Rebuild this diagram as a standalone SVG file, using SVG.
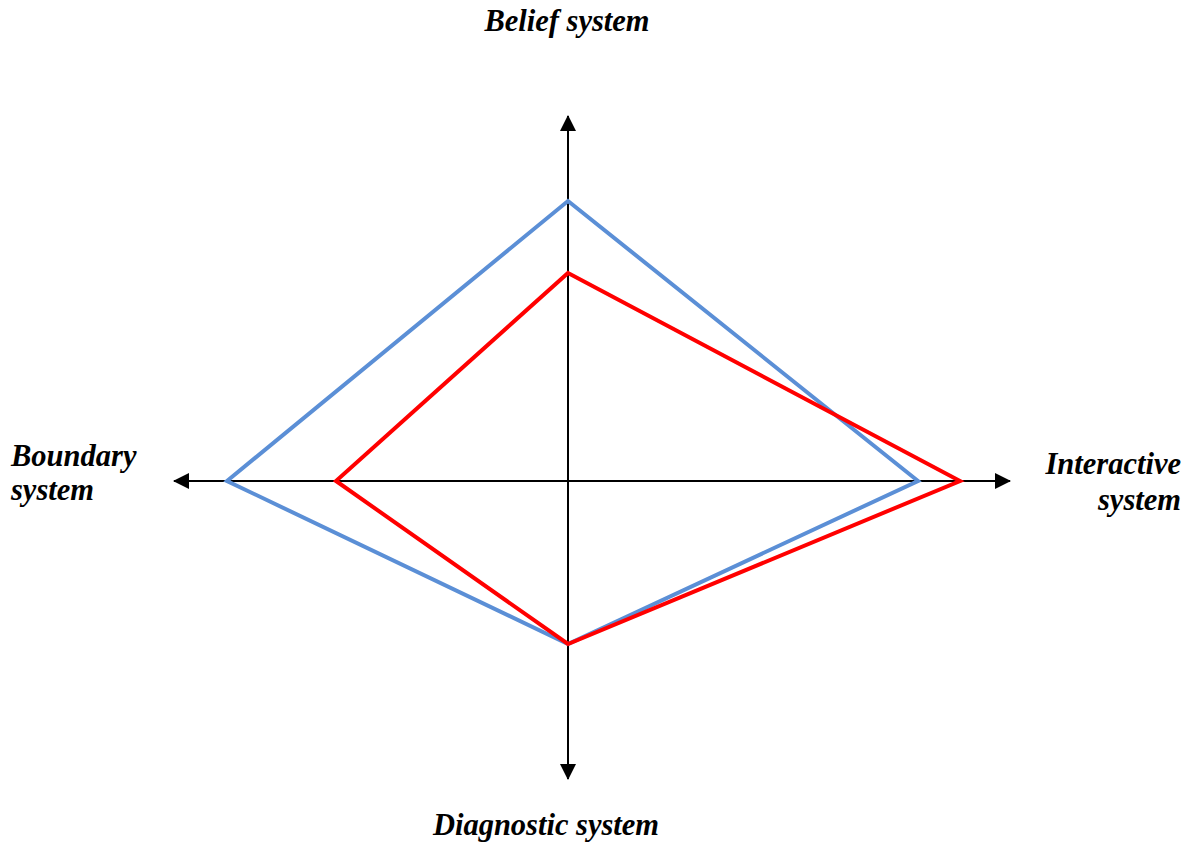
<svg xmlns="http://www.w3.org/2000/svg" width="1191" height="843" viewBox="0 0 1191 843">
<style>
.lbl{font-family:"Liberation Serif","Times New Roman",serif;font-size:30.5px;font-weight:bold;font-style:italic;fill:#000}
.axis{stroke:#000;stroke-width:2;fill:none}
.blue{stroke:#5B8FD6;stroke-width:4;fill:none;stroke-linejoin:miter}
.red{stroke:#FF0000;stroke-width:4;fill:none;stroke-linejoin:miter}
</style>
<defs>
<marker id="arr" viewBox="0 0 16 16" refX="15" refY="8" markerWidth="16" markerHeight="16" markerUnits="userSpaceOnUse" orient="auto">
<path d="M0,0 L16,8 L0,16 Z" fill="#000"/>
</marker>
</defs>
<rect width="1191" height="843" fill="#fff"/>
<g id="connectors">
<line class="axis" x1="568" y1="481" x2="568" y2="116" marker-end="url(#arr)"/>
<line class="axis" x1="568" y1="481" x2="568" y2="779" marker-end="url(#arr)"/>
<line class="axis" x1="568" y1="481" x2="174" y2="481" marker-end="url(#arr)"/>
<line class="axis" x1="568" y1="481" x2="1010" y2="481" marker-end="url(#arr)"/>
</g>
<g id="blue-series">
<polygon class="blue" points="568,201 918,481 568,644 227,481"/>
</g>
<g id="red-series">
<polygon class="red" points="568,273 960,481 568,644 336,481"/>
</g>
<g id="label-belief"><text class="lbl" x="567" y="31" text-anchor="middle">Belief system</text></g>
<g id="label-boundary"><text class="lbl" x="11" y="466">Boundary</text><text class="lbl" x="11" y="500">system</text></g>
<g id="label-interactive"><text class="lbl" x="1181" y="474" text-anchor="end">Interactive</text><text class="lbl" x="1181" y="510" text-anchor="end">system</text></g>
<g id="label-diagnostic"><text class="lbl" x="546" y="835" text-anchor="middle">Diagnostic system</text></g>
</svg>
